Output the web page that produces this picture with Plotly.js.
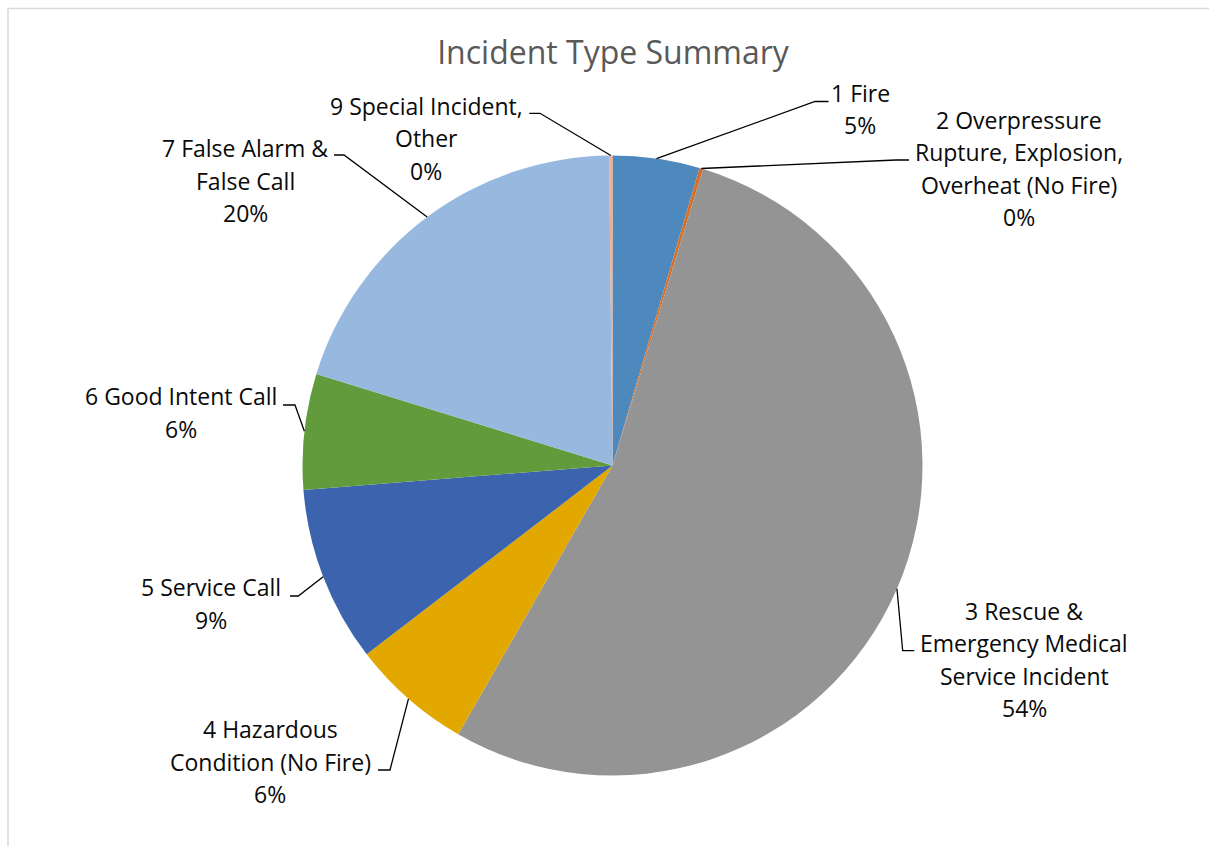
<!DOCTYPE html>
<html>
<head>
<meta charset="utf-8">
<script src="https://cdn.plot.ly/plotly-3.0.1.min.js"></script>
<style>
  html, body { margin: 0; padding: 0; background: #ffffff; }
  #chart { width: 1209px; height: 846px; }
</style>
</head>
<body>
<div id="chart"></div>
<script>
// ---- data ----
const categories = [
  '1 Fire',
  '2 Overpressure Rupture, Explosion, Overheat (No Fire)',
  '3 Rescue & Emergency Medical Service Incident',
  '4 Hazardous Condition (No Fire)',
  '5 Service Call',
  '6 Good Intent Call',
  '7 False Alarm & False Call',
  '9 Special Incident, Other'
];
const values = [4.53, 0.19, 53.58, 6.28, 9.17, 6.03, 20.06, 0.17];
const labelLines = [
  ['1 Fire'],
  ['2 Overpressure', 'Rupture, Explosion,', 'Overheat (No Fire)'],
  ['3 Rescue &', 'Emergency Medical', 'Service Incident'],
  ['4 Hazardous', 'Condition (No Fire)'],
  ['5 Service Call'],
  ['6 Good Intent Call'],
  ['7 False Alarm &', 'False Call'],
  ['9 Special Incident,', 'Other']
];
const colors = ['#4E89BE', '#D4702A', '#949494', '#E2A800', '#3C64AE', '#629B3C', '#97B9E0', '#F2AD8C'];

// ---- layout helpers (pixel positions of labels / leader elbows) ----
const W = 1209, H = 846;
const pieCx = 612.5, pieCy = 465.5, pieR = 310;
const labelFirstLine = [[860, 93], [1019, 119.5], [1024, 610.5], [270, 729], [211, 587], [180.5, 396.5], [245, 148], [426, 105.7]];
const leaderElbow = [[815, 101.5, 828.5], [896, 160, 909], [902.7, 650.7, 914.3], [390, 770, 378], [298.3, 596, 290], [295, 405, 283], [344, 155, 334], [540, 113.3, 529.3]];
const lineH = 32.5;

const px = x => x / W;
const py = y => 1 - y / H;

const total = values.reduce((a, b) => a + b, 0);
const annotations = [];
const shapes = [];
let cum = 0;
values.forEach((v, i) => {
  const mid = (cum + v / 2) / total * 2 * Math.PI;
  cum += v;
  const ax = pieCx + pieR * Math.sin(mid);
  const ay = pieCy - pieR * Math.cos(mid);
  const lines = labelLines[i].concat([Math.round(v / total * 100) + '%']);
  const [lx, ly] = labelFirstLine[i];
  lines.forEach((t, j) => {
    annotations.push({
      xref: 'paper', yref: 'paper', x: px(lx), y: py(ly + j * lineH),
      xanchor: 'center', yanchor: 'middle', showarrow: false, text: t,
      font: { family: 'Open Sans, sans-serif', size: 23, color: '#0a0a0a' }
    });
  });
  const [ex, ey, endX] = leaderElbow[i];
  shapes.push({
    type: 'path', xref: 'paper', yref: 'paper',
    path: 'M' + px(ax) + ',' + py(ay) + ' L' + px(ex) + ',' + py(ey) + ' L' + px(endX) + ',' + py(ey),
    line: { color: '#000000', width: 1.3 }
  });
});

// chart frame
shapes.push({
  type: 'rect', xref: 'paper', yref: 'paper',
  x0: px(8), x1: 1.01, y0: -0.01, y1: py(8.5),
  line: { color: '#D9D9D9', width: 1.5 }
});

const trace = {
  type: 'pie',
  labels: categories,
  values: values,
  sort: false,
  direction: 'clockwise',
  rotation: 0,
  textinfo: 'none',
  hoverinfo: 'label+percent',
  marker: { colors: colors, line: { width: 0 } },
  domain: { x: [(pieCx - pieR) / W, (pieCx + pieR) / W], y: [1 - (pieCy + pieR) / H, 1 - (pieCy - pieR) / H] },
  showlegend: false
};

const layout = {
  width: W, height: H,
  margin: { l: 0, r: 0, t: 0, b: 0 },
  paper_bgcolor: '#ffffff',
  title: {
    text: 'Incident Type Summary',
    font: { family: 'Open Sans, sans-serif', size: 32, color: '#595959' },
    x: 613 / W, xanchor: 'center', xref: 'paper',
    y: 1 - 53 / H, yanchor: 'middle', yref: 'container'
  },
  showlegend: false,
  annotations: annotations,
  shapes: shapes
};

Plotly.newPlot('chart', [trace], layout, { displayModeBar: false, staticPlot: true });
</script>
</body>
</html>
